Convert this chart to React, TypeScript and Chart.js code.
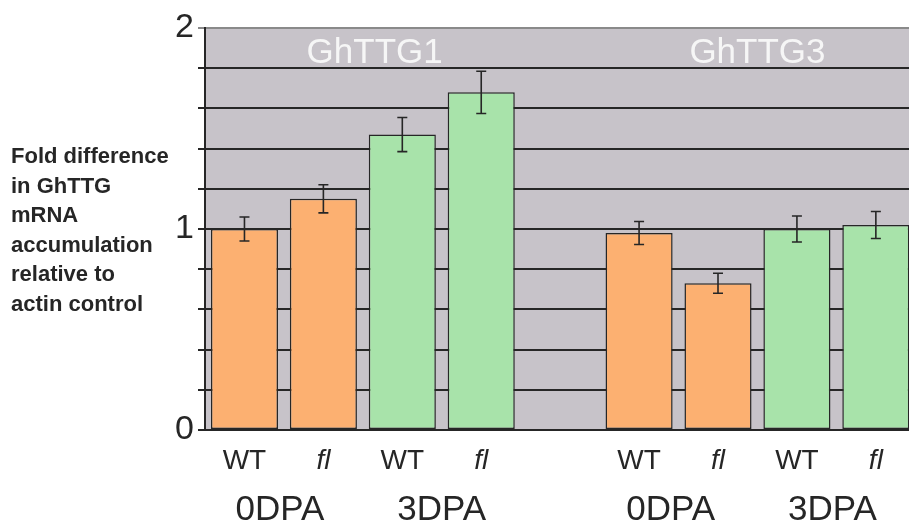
import React, { useEffect, useRef } from "react";
import { Chart, registerables } from "chart.js";

Chart.register(...registerables);

// ---- data ----
const barPositions = [0, 1, 2, 3, 5, 6, 7, 8];
const genotypeLabels = ["WT", "fl", "WT", "fl", "WT", "fl", "WT", "fl"];
const foldValues = [1.0, 1.15, 1.47, 1.68, 0.98, 0.73, 1.0, 1.02];
const foldErrors = [0.06, 0.07, 0.085, 0.105, 0.057, 0.05, 0.065, 0.067];
const stageOfBar = ["0DPA", "0DPA", "3DPA", "3DPA", "0DPA", "0DPA", "3DPA", "3DPA"];
const stageLabels = ["0DPA", "3DPA", "0DPA", "3DPA"];
const stagePositions = [0.45, 2.5, 5.4, 7.45];
const geneLabels = ["GhTTG1", "GhTTG3"];
const genePositions = [1.65, 6.5];
const yGridValues = [0, 0.2, 0.4, 0.6, 0.8, 1.0, 1.2, 1.4, 1.6, 1.8, 2.0];
const yTickLabels = ["0", "1", "2"];
const yAxisTitle = ["Fold difference", "in GhTTG", "mRNA", "accumulation", "relative to", "actin control"];

const FONT = "'Liberation Sans', Arial, sans-serif";
const ORANGE = "#fcb071";
const GREEN = "#a8e3aa";
const PLOT_BG = "#c7c3c9";
const DARK = "#262626";

const bgPlugin = {
  id: "plotBg",
  beforeDraw(chart: any) {
    const { ctx, chartArea } = chart;
    ctx.save();
    ctx.fillStyle = PLOT_BG;
    ctx.fillRect(chartArea.left, chartArea.top, chartArea.right - chartArea.left, chartArea.bottom - chartArea.top);
    ctx.restore();
  },
};

const errorBarPlugin = {
  id: "errorBars",
  afterDatasetsDraw(chart: any) {
    const { ctx } = chart;
    const meta = chart.getDatasetMeta(0);
    const y = chart.scales.y;
    ctx.save();
    ctx.strokeStyle = DARK;
    ctx.lineWidth = 1.6;
    meta.data.forEach((bar: any, i: number) => {
      const v = foldValues[i];
      const e = foldErrors[i];
      const x = bar.x;
      const yt = y.getPixelForValue(v + e);
      const yb = y.getPixelForValue(v - e);
      ctx.beginPath();
      ctx.moveTo(x, yt);
      ctx.lineTo(x, yb);
      ctx.moveTo(x - 5, yt);
      ctx.lineTo(x + 5, yt);
      ctx.moveTo(x - 5, yb);
      ctx.lineTo(x + 5, yb);
      ctx.stroke();
    });
    ctx.restore();
  },
};

const textPlugin = {
  id: "extraText",
  afterDraw(chart: any) {
    const { ctx, chartArea } = chart;
    const x = chart.scales.x;
    ctx.save();
    // gene titles inside plot
    ctx.fillStyle = "#f6f6f6";
    ctx.font = `35px ${FONT}`;
    ctx.textAlign = "center";
    ctx.textBaseline = "alphabetic";
    geneLabels.forEach((t, i) => {
      ctx.fillText(t, x.getPixelForValue(genePositions[i]), chartArea.top + 35);
    });
    // stage labels
    ctx.fillStyle = DARK;
    ctx.font = `35px ${FONT}`;
    stageLabels.forEach((t, i) => {
      ctx.fillText(t, x.getPixelForValue(stagePositions[i]), chartArea.bottom + 90);
    });
    // y axis title
    ctx.font = `bold 22px ${FONT}`;
    ctx.textAlign = "left";
    ctx.fillStyle = DARK;
    yAxisTitle.forEach((line, i) => {
      ctx.fillText(line, 11, 163 + i * 29.5);
    });
    ctx.restore();
  },
};

export default function App() {
  const ref = useRef<HTMLCanvasElement>(null);
  useEffect(() => {
    if (!ref.current) return;
    const chart = new Chart(ref.current, {
      type: "bar",
      data: {
        datasets: [
          {
            data: barPositions.map((p, i) => ({ x: p, y: foldValues[i] })),
            backgroundColor: stageOfBar.map((s) => (s === "0DPA" ? ORANGE : GREEN)),
            borderColor: DARK,
            borderWidth: 1.5,
            borderSkipped: false,
            categoryPercentage: 1,
            barPercentage: 0.85,
          },
        ],
      },
      options: {
        animation: false,
        responsive: true,
        maintainAspectRatio: false,
        layout: { padding: { top: 28, right: 0, left: 0, bottom: 0 } },
        plugins: { legend: { display: false }, tooltip: { enabled: false } },
        scales: {
          x: {
            type: "linear",
            offset: false,
            min: -0.5,
            max: 8.42,
            grid: { display: false, drawTicks: false },
            border: { display: true, color: DARK, width: 2 },
            afterBuildTicks: (scale: any) => {
              scale.ticks = barPositions.map((v) => ({ value: v }));
            },
            afterFit: (scale: any) => {
              scale.height = 96;
            },
            ticks: {
              autoSkip: false,
              maxRotation: 0,
              padding: 14,
              color: DARK,
              callback: (_v: any, i: number) => genotypeLabels[i],
              font: (ctx: any) => ({
                family: FONT,
                size: 28,
                style: genotypeLabels[ctx.index] === "fl" ? "italic" : "normal",
              }),
            },
          },
          y: {
            min: 0,
            max: 2,
            border: { display: true, color: DARK, width: 2 },
            grid: {
              color: (ctx: any) => (ctx.tick && ctx.tick.value === 2 ? "#8a8a8a" : DARK),
              lineWidth: 2,
              drawTicks: true,
              tickLength: 7,
            },
            afterBuildTicks: (scale: any) => {
              scale.ticks = yGridValues.map((v) => ({ value: v }));
            },
            afterFit: (scale: any) => {
              scale.width = 205;
            },
            ticks: {
              autoSkip: false,
              padding: 4,
              color: DARK,
              font: { family: FONT, size: 34 },
              callback: (v: any) => {
                const n = Number(v);
                const r = Math.round(n);
                return Math.abs(n - r) < 1e-6 ? yTickLabels[r] : "";
              },
            },
          },
        },
      } as any,
      plugins: [bgPlugin, errorBarPlugin, textPlugin],
    });
    return () => chart.destroy();
  }, []);
  return (
    <div style={{ position: "fixed", left: 0, top: 0, width: 909, height: 526, background: "#fff" }}>
      <canvas ref={ref} />
    </div>
  );
}
